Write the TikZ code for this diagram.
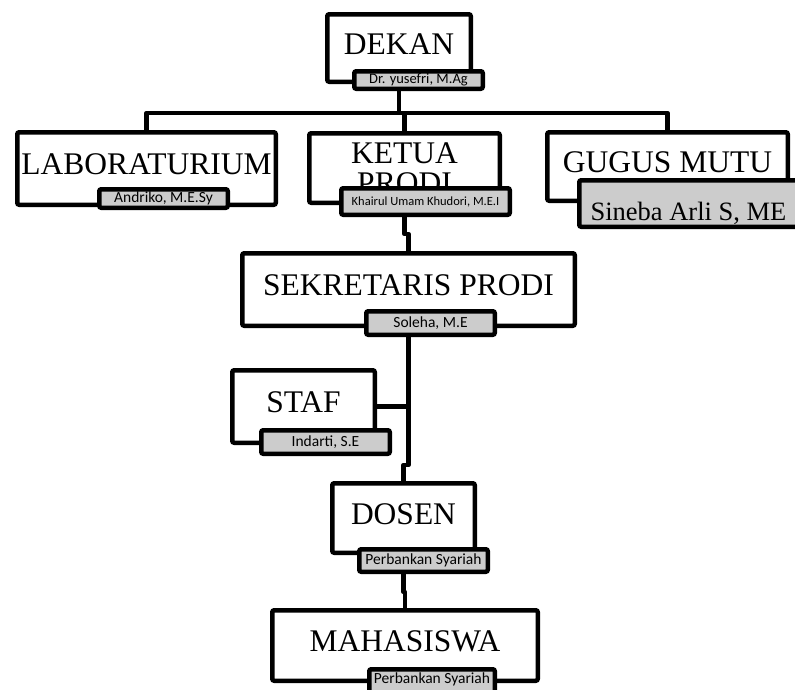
\documentclass[tikz,border=0pt]{standalone}
\usepackage{fontspec}
\setmainfont{Liberation Serif}
\newfontfamily\tagfont{Carlito}

\tikzset{
  box/.style={draw, fill=white, line width=4.5pt, rounded corners=2pt, inner sep=0pt,
    text depth=8pt, font=\fontsize{31.5}{30}\selectfont, align=center},
  tag/.style={draw, fill=gray!40, line width=4.5pt, rounded corners=2pt, inner sep=0pt,
    font=\tagfont\fontsize{15.5}{15.5}\selectfont},
  link/.style={line width=4.5pt, line join=round}
}

\begin{document}
\begin{tikzpicture}[x=1pt,y=-1pt]
\useasboundingbox (0,0) rectangle (795,689);

% top level
\node[box, minimum width=143.5pt, minimum height=67.5pt] (dekan) at (399,48) {DEKAN};
\node[tag, minimum width=128.5pt, minimum height=17.5pt, font=\tagfont\fontsize{14.5}{14.5}\selectfont] (dekantag) at (418.5,80) {Dr. yusefri, M.Ag};

% second row
\node[box, minimum width=258.5pt, minimum height=72.5pt] (lab) at (146.5,168.5) {LABORATURIUM};
\node[tag, minimum width=128.5pt, minimum height=18.5pt] (labtag) at (163.5,198.5) {Andriko, M.E.Sy};

\node[box, minimum width=190.5pt, minimum height=69.5pt, text depth=0pt] (ketua) at (404.5,168) {KETUA\\PRODI};
\node[tag, minimum width=168.5pt, minimum height=26.5pt, font=\tagfont\fontsize{12.5}{12.5}\selectfont] (ketuatag) at (425.5,201.5) {Khairul Umam Khudori, M.E.I};

\node[box, minimum width=240.5pt, minimum height=68.5pt] (gugus) at (667.5,166.5) {GUGUS MUTU};
\node[tag, minimum width=218.5pt, minimum height=46.5pt, text height=34pt, text depth=0pt,
  font=\fontsize{26.5}{26.5}\selectfont] (gugustag) at (688.5,203.5) {Sineba Arli S, ME};

% lower levels
\node[box, minimum width=332.5pt, minimum height=72.5pt] (sekr) at (408.5,289.5) {SEKRETARIS PRODI};
\node[tag, minimum width=128.5pt, minimum height=23.5pt] (sekrtag) at (430.5,323) {Soleha, M.E};

\node[box, minimum width=142.5pt, minimum height=72.5pt] (staf) at (303.5,406.5) {STAF};
\node[tag, minimum width=128.5pt, minimum height=23.5pt] (staftag) at (325.5,442) {Indarti, S.E};

\node[box, minimum width=142.5pt, minimum height=69.5pt] (dosen) at (403.5,518) {DOSEN};
\node[tag, minimum width=128.5pt, minimum height=22.5pt] (dosentag) at (423.5,560.5) {Perbankan Syariah};

\node[box, minimum width=265.5pt, minimum height=70.5pt] (maha) at (405,645.5) {MAHASISWA};
\node[tag, minimum width=125.5pt, minimum height=23.5pt, text depth=6pt] (mahatag) at (432,681) {Perbankan Syariah};

% connectors
\coordinate (bus) at (399,113);
\draw[link] (dekan.south |- dekantag.south) -- (bus);
\draw[link] (lab.north) |- (bus) -| (gugus.north);
\draw[link] (bus) -| (ketua.north);
\draw[link] (ketua.south |- ketuatag.south) -- ++(0,17) -| (sekr.north);
\draw[link] (sekr.south |- sekrtag.south) -- ++(0,128) -| (dosen.north);
\draw[link] (staf.east) -- (staf.east -| sekr.south);
\draw[link] (dosen.south |- dosentag.south) -- ++(0,18) -| (maha.north);
\end{tikzpicture}
\end{document}
